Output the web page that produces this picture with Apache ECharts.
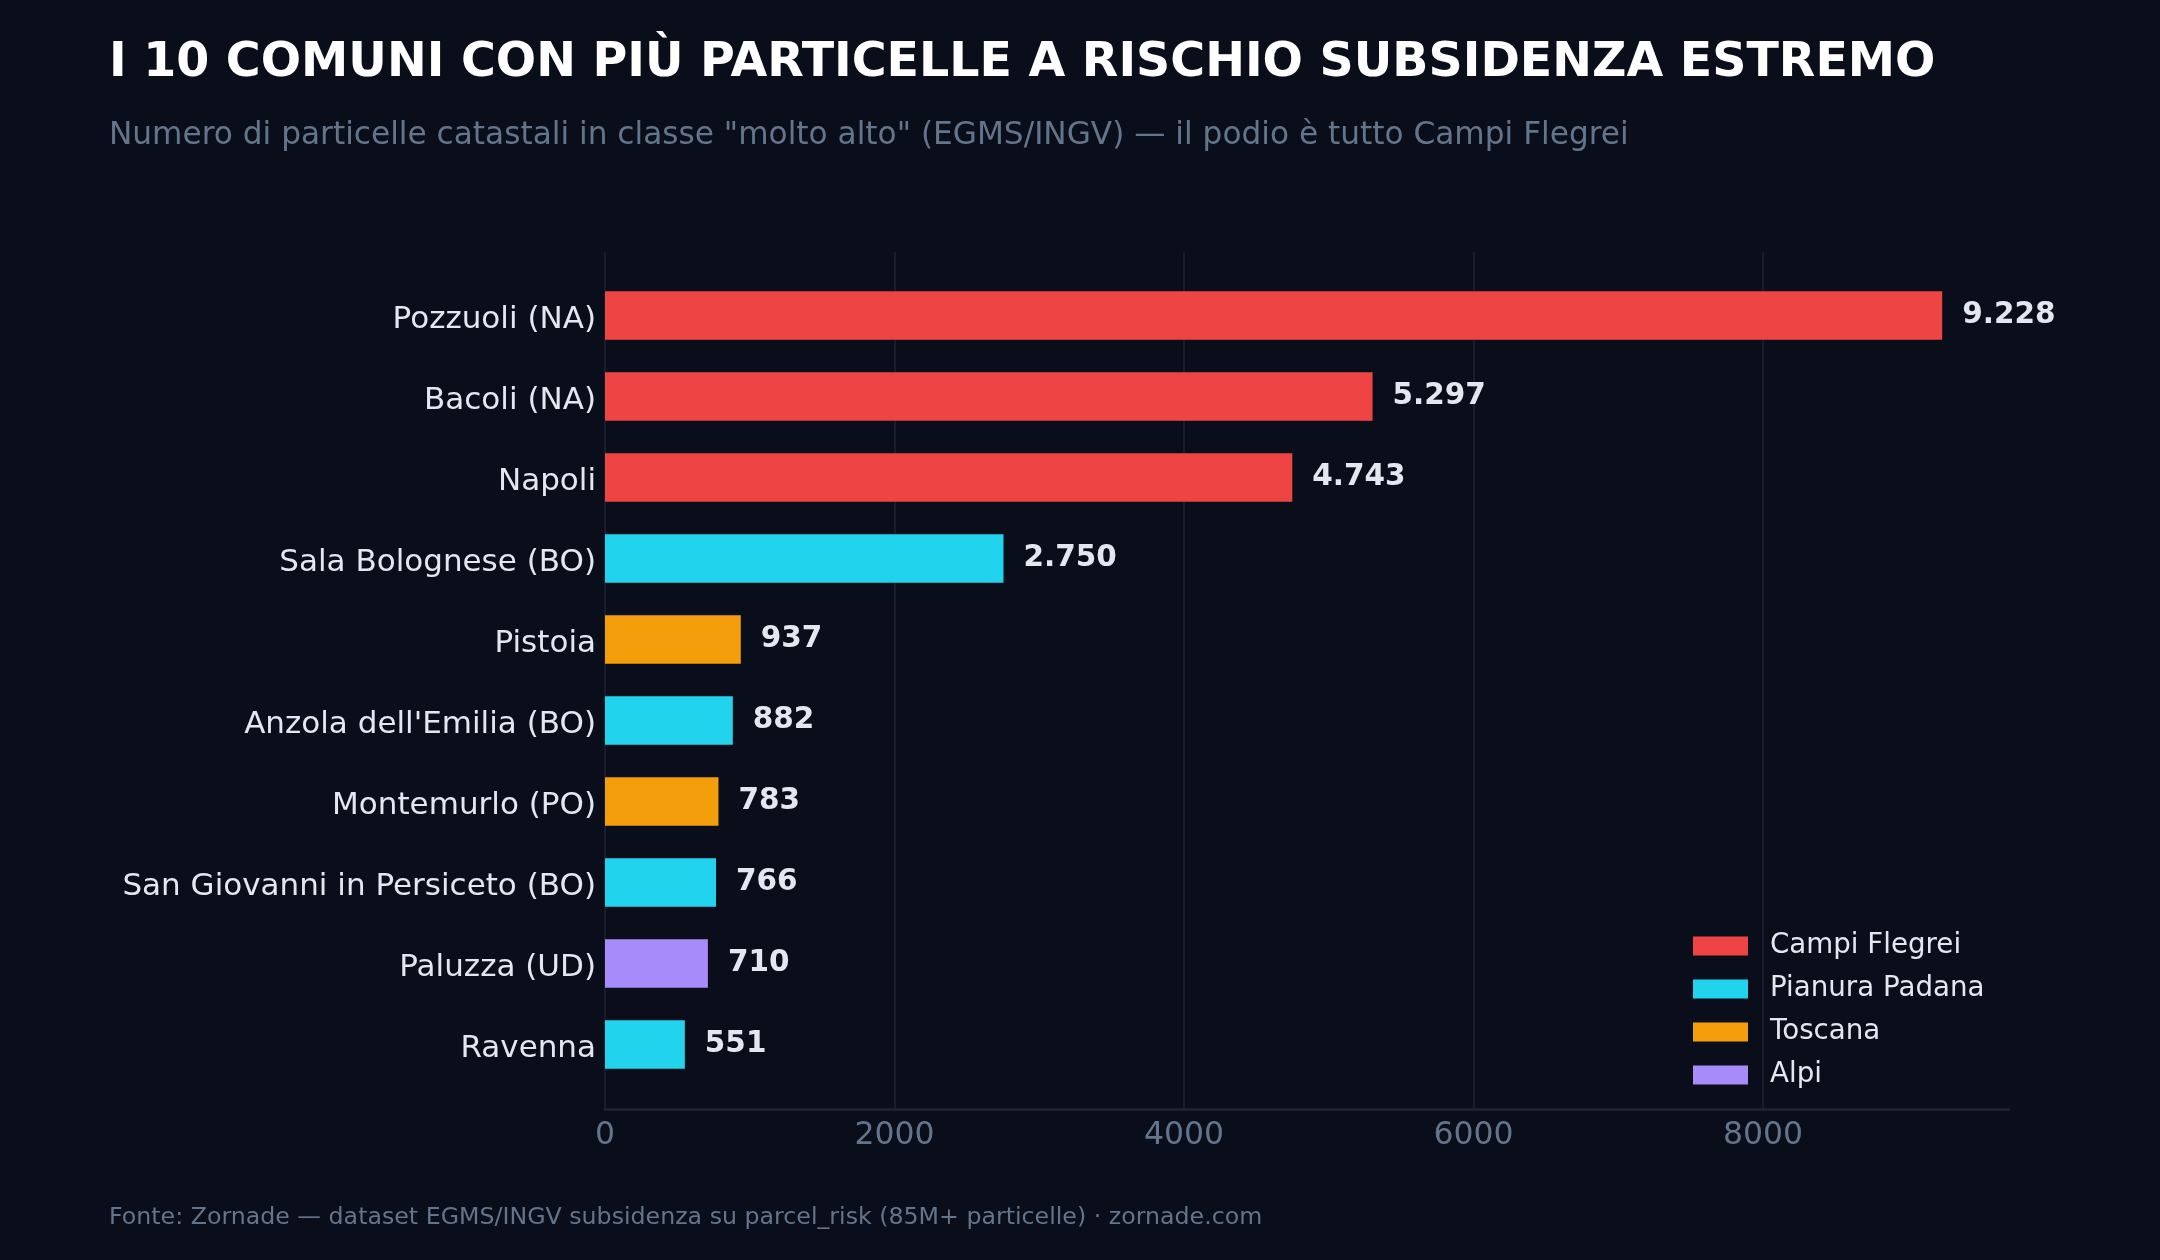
<!DOCTYPE html>
<html>
<head>
<meta charset="utf-8">
<script src="https://cdn.jsdelivr.net/npm/echarts@6/dist/echarts.min.js"></script>
<style>
  html, body { margin: 0; padding: 0; background: #0a0e1a; }
  #chart { width: 2160px; height: 1260px; }
</style>
</head>
<body>
<div id="chart"></div>
<script>
// dati: comuni, numero di particelle "molto alto", area di appartenenza
var comuni = ['Pozzuoli (NA)', 'Bacoli (NA)', 'Napoli', 'Sala Bolognese (BO)', 'Pistoia',
    "Anzola dell'Emilia (BO)", 'Montemurlo (PO)', 'San Giovanni in Persiceto (BO)', 'Paluzza (UD)', 'Ravenna'];
var particelle = [9228, 5297, 4743, 2750, 937, 882, 783, 766, 710, 551];
var aree = ['Campi Flegrei', 'Campi Flegrei', 'Campi Flegrei', 'Pianura Padana', 'Toscana',
    'Pianura Padana', 'Toscana', 'Pianura Padana', 'Alpi', 'Pianura Padana'];
var gruppi = ['Campi Flegrei', 'Pianura Padana', 'Toscana', 'Alpi'];
var colori = ['#ef4444', '#22d3ee', '#f59e0b', '#a78bfa'];
var xTicks = [0, 2000, 4000, 6000, 8000];

var FONT = 'DejaVu Sans';
var xMax = 9689; // limite asse x (max * 1.05)

// separatore delle migliaia all'italiana
function fmt(v) {
    return String(v).replace(/\B(?=(\d{3})+(?!\d))/g, '.');
}

var chart = echarts.init(document.getElementById('chart'));

// una serie per gruppo, impilate, così la legenda esce da sola
var series = gruppi.map(function (g, gi) {
    return {
        name: g,
        type: 'bar',
        stack: 'tot',
        xAxisIndex: 1,
        yAxisIndex: 1,
        barCategoryGap: '40%',
        itemStyle: { color: colori[gi] },
        label: {
            show: true,
            position: 'right',
            distance: 20,
            color: '#e2e8f0',
            fontFamily: FONT,
            fontWeight: 'bold',
            fontSize: 29.5,
            formatter: function (p) { return fmt(p.value); }
        },
        data: particelle.map(function (v, i) { return aree[i] === g ? v : '-'; })
    };
});

var option = {
    backgroundColor: '#0a0e1a',
    animation: false,
    title: [
        {
            text: 'I 10 COMUNI CON PIÙ PARTICELLE A RISCHIO SUBSIDENZA ESTREMO',
            left: 109, top: 40, padding: 0,
            textStyle: { color: '#ffffff', fontFamily: FONT, fontWeight: 'bold', fontSize: 47.5, lineHeight: 47.5 }
        },
        {
            text: 'Numero di particelle catastali in classe "molto alto" (EGMS/INGV) — il podio è tutto Campi Flegrei',
            left: 109, top: 120, padding: 0,
            textStyle: { color: '#64748b', fontFamily: FONT, fontWeight: 'normal', fontSize: 31.2, lineHeight: 31.2 }
        },
        {
            text: 'Fonte: Zornade — dataset EGMS/INGV subsidenza su parcel_risk (85M+ particelle) · zornade.com',
            left: 109, top: 1206, padding: 0,
            textStyle: { color: '#64748b', fontFamily: FONT, fontWeight: 'normal', fontSize: 23.7, lineHeight: 23.7 }
        }
    ],
    legend: {
        data: gruppi,
        orient: 'vertical',
        left: 1688,
        top: 927,
        itemWidth: 55,
        itemHeight: 19,
        itemGap: 15,
        icon: 'rect',
        selectedMode: false,
        textStyle: { color: '#e2e8f0', fontFamily: FONT, fontSize: 27.7, padding: [0, 0, 0, 17] }
    },
    grid: [
        // griglia per gridlines ed etichette dei tick
        { left: 605, width: 1158, top: 252, bottom: 151 },
        // griglia per le barre
        { left: 605, right: 151, top: 275, bottom: 175 }
    ],
    xAxis: [
        {
            type: 'value', gridIndex: 0, min: 0, max: 8000, interval: 2000,
            axisLine: { show: false },
            axisTick: { show: false },
            splitLine: { show: true, lineStyle: { color: '#1c2333', width: 1.5 } },
            axisLabel: {
                color: '#64748b', fontFamily: FONT, fontSize: 31.5, margin: 11,
                formatter: function (v) { return xTicks.indexOf(v) >= 0 ? String(v) : ''; }
            }
        },
        {
            type: 'value', gridIndex: 1, min: 0, max: xMax,
            offset: 24,
            axisLine: { show: true, lineStyle: { color: '#1e2536', width: 2.5 } },
            axisTick: { show: false },
            axisLabel: { show: false },
            splitLine: { show: false }
        }
    ],
    yAxis: [
        {
            type: 'category', gridIndex: 0, data: comuni, show: false
        },
        {
            type: 'category', gridIndex: 1, data: comuni, inverse: true,
            axisLine: { show: false },
            axisTick: { show: false },
            axisLabel: {
                color: '#e2e8f0', fontFamily: FONT, fontSize: 31, margin: 9,
                verticalAlign: 'top', lineHeight: 8
            }
        }
    ],
    series: series
};

chart.setOption(option);
</script>
</body>
</html>
